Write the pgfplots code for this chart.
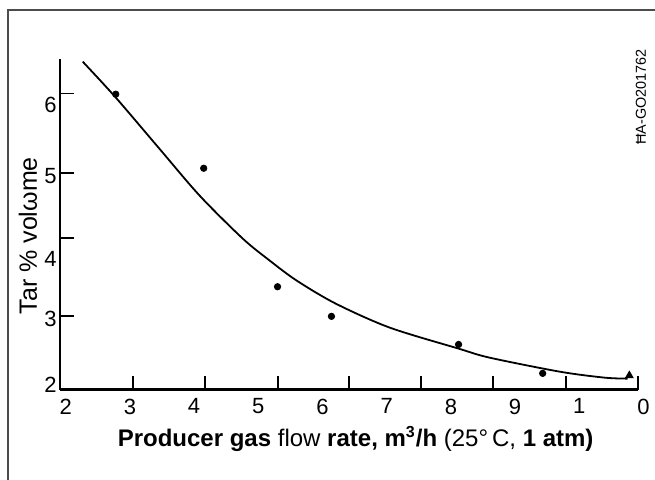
\documentclass[border=0pt]{standalone}
\usepackage{fontspec}
\setmainfont{Liberation Sans}
\usepackage{graphicx}
\usepackage{pgfplots}
\pgfplotsset{compat=1.18}
\begin{document}
\begin{tikzpicture}[x=0.5pt,y=0.5pt]
\draw[line width=1.1pt, black!70] (8,0) -- (8,470) -- (655,470);
\begin{axis}[
  at={(93,122)}, anchor=south west,
  scale only axis, width=289pt, height=165.5pt,
  xmin=1.907, xmax=10.91, ymin=2, ymax=6.47,
  axis x line*=bottom, axis y line*=left,
  axis line style={line width=1.2pt, -},
  xtick align=inside, ytick align=inside,
  major tick length=7pt,
  tick style={line width=0.9pt, black},
  xtick={3.044,4.165,5.302,6.408,7.53,8.65,9.79,10.91},
  xticklabels={},
  ytick={2.99,4.05,4.93,6.0}, yticklabels={},
  extra x ticks={2,3,4,5,6,7,8,9,10},
  extra x tick labels={2,3,4,5,6,7,8,9,1},
  extra y ticks={2.07,2.96,3.77,4.88,5.85},
  extra y tick labels={2,3,4,5,6},
  extra tick style={major tick length=0pt},
  tick label style={font=\fontsize{11}{12}\selectfont},
  yticklabel style={xshift=2pt},
  xticklabel style={yshift=-1pt},
  clip=false,
  xlabel={\textbf{Producer gas} flow \textbf{rate, m\textsuperscript{3}/h} (25°\,C, \textbf{1 atm)}},
  xlabel style={at={(axis description cs:0.512,-0.148)}, anchor=center, font=\fontsize{12}{14}\selectfont},
  ylabel={Tar \% volωme},
  ylabel style={at={(axis description cs:-0.055,0.465)}, anchor=center, font=\fontsize{12.5}{14}\selectfont},
]
\addplot[smooth, line width=0.9pt, black] coordinates {
 (2.265,6.43) (2.779,5.946) (3.464,5.250) (4.087,4.620) (4.757,4.041)
 (5.178,3.743) (5.598,3.473) (6.206,3.162) (7.047,2.838) (8.121,2.554)
 (8.604,2.432) (9.695,2.243) (10.396,2.162) (10.754,2.149)};
\addplot[only marks, mark=*, mark size=1.6pt, black] coordinates {
 (2.78,5.99) (4.15,4.99) (5.30,3.39) (6.14,2.99) (8.12,2.61) (9.43,2.22)};
\addplot[only marks, mark=triangle*, mark size=2.2pt, black] coordinates {(10.78,2.19)};
\node[anchor=north, font=\fontsize{11}{12}\selectfont, yshift=-1pt] at (axis cs:11,2) {0};
\end{axis}
\node[rotate=90, font=\fontsize{7.2}{9}\selectfont] at (641,383) {ĦA-GO201762};
\pgfresetboundingbox
\path[use as bounding box] (0,0) rectangle (655,480);
\end{tikzpicture}
\end{document}
